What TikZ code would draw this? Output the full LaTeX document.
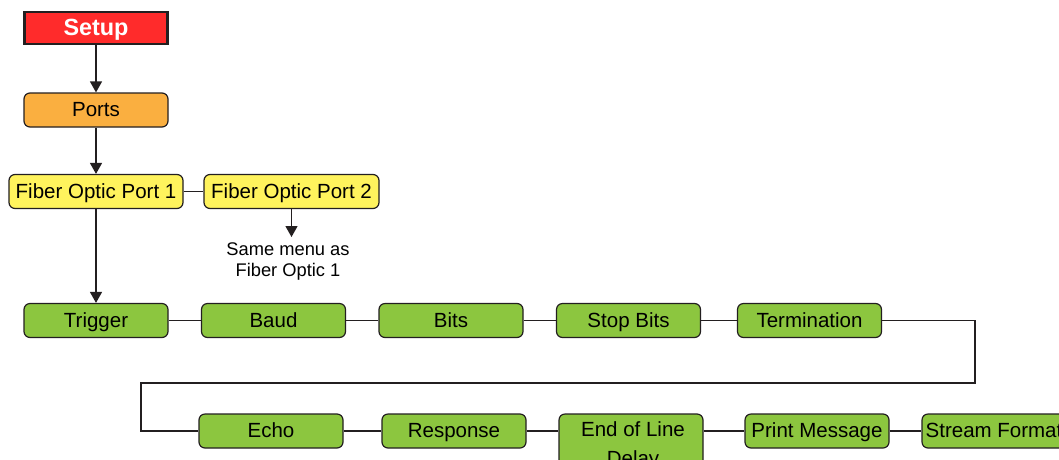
\documentclass[tikz,border=0pt]{standalone}
\usepackage{fontspec}
\setmainfont{Liberation Sans}
\usetikzlibrary{arrows.meta}
\definecolor{setupred}{HTML}{FF2B2B}
\definecolor{portorange}{HTML}{FAAF40}
\definecolor{fopyellow}{HTML}{FFF35D}
\definecolor{itemgreen}{HTML}{8CC63F}
\definecolor{edge}{HTML}{231F20}
\tikzset{
  basebox/.style={draw=edge, line width=1.2pt, rounded corners=6pt, inner sep=0pt,
    minimum height=34pt, minimum width=144pt, text=black,
    font=\fontsize{20.5}{24}\selectfont, text height=15pt, text depth=2pt},
  setupbox/.style={draw=edge, line width=2.5pt, fill=setupred, inner sep=0pt,
    minimum height=32pt, minimum width=143pt, text=white,
    font=\fontsize{23.4}{27}\selectfont\bfseries, text height=17pt, text depth=2pt},
  portbox/.style={basebox, fill=portorange},
  fopbox/.style={basebox, fill=fopyellow, minimum width=174pt},
  itembox/.style={basebox, fill=itemgreen},
  conn/.style={draw=edge, line width=1.2pt},
  arr/.style={conn, -{Triangle[width=12pt,length=11pt]}},
  note/.style={inner sep=0pt, align=center, font=\fontsize{18.3}{21}\selectfont}
}
\begin{document}
\begin{tikzpicture}[x=1pt,y=-1pt]
\clip (0,0) rectangle (1059,459);
\fill[white] (0,0) rectangle (1059,459);
% top column
\node[setupbox] (setup) at (96,28) {Setup};
\node[portbox] (ports) at (96,110) {Ports};
\node[fopbox] (fop1) at (96,191.5) {Fiber Optic Port 1};
\node[fopbox, minimum width=175pt] (fop2) at (291.5,191.5) {Fiber Optic Port 2};
\node[note, anchor=north] (same) at (288,243) {Same menu as\\Fiber Optic 1};
\coordinate (sametip) at (291.5,237);
% row 1
\node[itembox] (trigger) at (96,320.5) {Trigger};
\node[itembox] (baud) at (273.5,320.5) {Baud};
\node[itembox] (bits) at (451,320.5) {Bits};
\node[itembox] (stopbits) at (628.5,320.5) {Stop Bits};
\node[itembox] (term) at (809.5,320.5) {Termination};
% row 2
\node[itembox] (echo) at (271,431) {Echo};
\node[itembox] (resp) at (454,431) {Response};
\node[itembox, minimum height=64pt] (eol) at (631,446) {};
\node[note, font=\fontsize{20.5}{29.5}\selectfont] (eoltext) at (633,445.5) {End of Line\\Delay};
\node[itembox] (print) at (817,431) {Print Message};
\node[itembox] (stream) at (994,431) {Stream Format};
% route coordinates
\coordinate (r1) at (975,383);
\coordinate (l1) at (141,383);
% connectors
\draw[arr] (setup) -- (ports);
\draw[arr] (ports) -- (fop1);
\draw[conn] (fop1) -- (fop2);
\draw[arr] (fop2.south) -- (sametip);
\draw[arr] (fop1) -- (trigger);
\draw[conn] (trigger) -- (baud);
\draw[conn] (baud) -- (bits);
\draw[conn] (bits) -- (stopbits);
\draw[conn] (stopbits) -- (term);
\draw[conn] (term.east) -| (r1) -- (l1) |- (echo.west);
\draw[conn] (echo) -- (resp);
\draw[conn] (resp.east) -- (resp.east -| eol.west);
\draw[conn] (eol.east |- print.west) -- (print.west);
\draw[conn] (print) -- (stream);
\end{tikzpicture}
\end{document}
